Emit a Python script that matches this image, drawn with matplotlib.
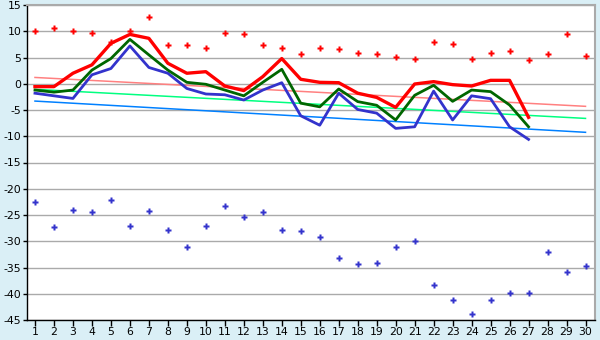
import numpy as np
import matplotlib
matplotlib.use("Agg")
import matplotlib.pyplot as plt

days = np.arange(1, 31)
line_days = np.arange(1, 28)

# scattered highs / lows over the whole month
high_pts = [10.0, 10.55, 10.0, 9.6, 8.0, 10.0, 12.65, 7.3, 7.3, 6.75,
            9.6, 9.4, 7.4, 6.75, 5.67, 6.75, 6.55, 5.8, 5.67, 5.17,
            4.65, 7.9, 7.5, 4.65, 5.8, 6.2, 4.45, 5.67, 9.4, 5.2]
low_pts = [-22.6, -27.2, -24.1, -24.5, -22.2, -27.0, -24.3, -27.9, -31.0, -27.0,
           -23.2, -25.3, -24.5, -27.9, -28.1, -29.2, -33.1, -34.4, -34.2, -31.0,
           -30.0, -38.4, -41.1, -43.9, -41.1, -39.9, -39.9, -32.1, -35.9, -34.8]

# daily series (first 27 days)
red_line = [-0.55, -0.55, 2.0, 3.6, 7.7, 9.4, 8.65, 3.9, 2.0, 2.3,
            -0.43, -1.3, 1.35, 4.8, 0.85, 0.27, 0.2, -1.8, -2.6, -4.5,
            -0.05, 0.4, -0.17, -0.43, 0.65, 0.65, -6.4]
green_line = [-1.2, -1.6, -1.2, 2.6, 4.8, 8.45, 5.5, 2.6, 0.27, -0.1,
              -1.2, -2.3, 0.27, 2.75, -3.7, -4.4, -1.0, -3.4, -4.1, -6.9,
              -2.2, -0.3, -3.35, -1.2, -1.5, -4.05, -8.2]
blue_line = [-1.8, -2.3, -2.8, 1.7, 2.9, 7.2, 3.1, 2.0, -0.9, -1.95,
             -2.1, -3.1, -1.2, 0.2, -6.1, -7.9, -1.8, -4.9, -5.6, -8.5,
             -8.2, -1.4, -6.9, -2.3, -2.85, -8.2, -10.6]

# trend lines: value on day 1 and day 30
trend_x = [1, 30]
red_trend = [1.2, -4.3]
green_trend = [-1.06, -6.6]
blue_trend = [-3.3, -9.25]

yticks = list(range(-45, 16, 5))

fig = plt.figure(figsize=(6, 3.4), dpi=100, facecolor="#daeff6")
ax = fig.add_axes([27 / 600, 20 / 340, 568 / 600, 315 / 340])
ax.set_facecolor("white")

ax.plot(trend_x, red_trend, color="#ff8080", lw=1.1)
ax.plot(trend_x, green_trend, color="#00ff80", lw=1.1)
ax.plot(trend_x, blue_trend, color="#0080ff", lw=1.1)

ax.plot(line_days, blue_line, color="#3333cc", lw=2)
ax.plot(line_days, green_line, color="#006600", lw=2)
ax.plot(line_days, red_line, color="#ff0000", lw=2.4)

ax.plot(days, high_pts, ls="none", marker="P", ms=4.6, color="#ff0000", mec="none")
ax.plot(days, low_pts, ls="none", marker="P", ms=4.6, color="#3333cc", mec="none")

ax.set_xlim(0.58, 30.5)
ax.set_ylim(-45, 15)
ax.set_xticks(days)
ax.set_yticks(yticks)
ax.set_yticklabels([str(v) for v in yticks])
ax.grid(axis="y", color="#aaaaaa", lw=1)
ax.set_axisbelow(True)
ax.tick_params(axis="both", labelsize=7.8, width=1, color="black")
ax.tick_params(axis="x", length=4, pad=1.2)
ax.tick_params(axis="y", length=3, pad=1)
for s in ["top", "right"]:
    ax.spines[s].set_color("#aaaaaa")
    ax.spines[s].set_linewidth(1.5)
for s in ["left", "bottom"]:
    ax.spines[s].set_color("black")
    ax.spines[s].set_linewidth(1)

fig.savefig("out.png", dpi=100, facecolor=fig.get_facecolor())
